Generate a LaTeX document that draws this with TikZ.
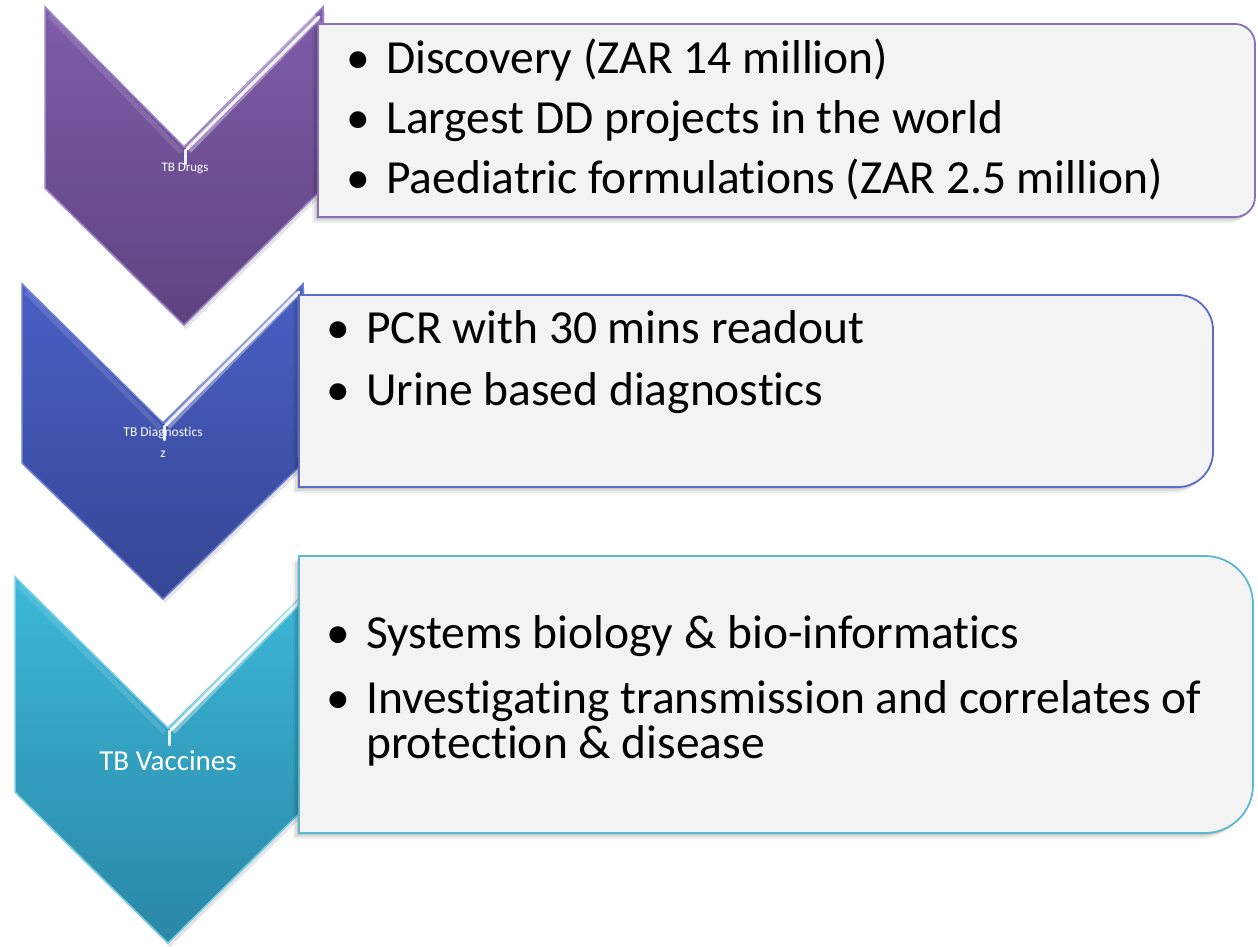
\documentclass[tikz,border=0pt]{standalone}
\usepackage{fontspec}
\setmainfont{Carlito}[Ligatures=NoCommon]

% chevron palettes: top shade, bottom shade, outline
\definecolor{purptop}{HTML}{7F5DAA}
\definecolor{purpbot}{HTML}{5E4380}
\definecolor{purpedge}{HTML}{9A82C4}
\definecolor{bluetop}{HTML}{4A5FC4}
\definecolor{bluebot}{HTML}{354694}
\definecolor{blueedge}{HTML}{6A7DD4}
\definecolor{tealtop}{HTML}{3DB9D9}
\definecolor{tealbot}{HTML}{2A86A5}
\definecolor{tealedge}{HTML}{74CDE5}
% panel outlines and fill
\definecolor{purpline}{HTML}{8B70B8}
\definecolor{blueline}{HTML}{5A6DC6}
\definecolor{tealline}{HTML}{5DB8D2}
\definecolor{panelgrey}{HTML}{F3F3F3}

% #1 left x, #2 centre x, #3 right x, #4 top, #5 notch, #6 side bottom, #7 tip, #8 palette
\newcommand\chevron[8]{%
  \fill[black,opacity=.10] ({#1+2},{#4+4}) -- ({#2+2},{#5+4}) -- ({#3+2},{#4+4}) -- ({#3+2},{#6+4}) -- ({#2+2},{#7+4}) -- ({#1+2},{#6+4}) -- cycle;
  \draw[chev, draw=#8edge, top color=#8top, bottom color=#8bot]
    (#1,#4) -- (#2,#5) -- (#3,#4) -- (#3,#6) -- (#2,#7) -- (#1,#6) -- cycle;
  % soft light bands along the left arm and the right side
  \draw[white, opacity=.12, line width=5pt] ({#1+4},{#4+8}) -- ({#2-3},{#5+5});
  \draw[white, opacity=.18, line width=4pt] ({#3-4},{#4+14}) -- ({#3-4},{#6-6});
}
% bright bevel along the right arm of the notch: #1 centre x, #2 right x, #3 top, #4 notch
\newcommand\glint[4]{%
  \draw[white, opacity=.35, line width=8pt] ({#1+4},{#4+3}) -- ({#2-6},{#4+9-#2+#1});
  \draw[glintline] ({#1+3},{#4+2}) -- ({#2-4},{#4+9-#2+#1});
  \draw[glintline, line width=2.5pt] ({#1+1.5},{#4+3}) -- ({#1+1.5},{#4+17});
}
% #1 left, #2 top, #3 right, #4 bottom, #5 corner radius, #6 outline colour
\newcommand\infopanel[6]{%
  \foreach \s/\o in {2/.10,4/.08,6/.06}{
    \fill[black,opacity=\o] ({#1-\s},{#2+\s}) -- ({#3-#5-\s},{#2+\s}) arc[start angle=-90,end angle=0,radius=#5] -- ({#3-\s},{#4-#5+\s}) arc[start angle=0,end angle=90,radius=#5] -- ({#1-\s},{#4+\s}) -- cycle;
  }
  \draw[panel, draw=#6] (#1,#2) -- ({#3-#5},#2) arc[start angle=-90,end angle=0,radius=#5]
    -- (#3,{#4-#5}) arc[start angle=0,end angle=90,radius=#5] -- (#1,#4) -- cycle;
}
\newcommand\bul{\makebox[40pt][l]{•}}

\begin{document}
\begin{tikzpicture}[x=1pt,y=-1pt,
  chev/.style={line width=1.5pt, line join=miter},
  glintline/.style={white, line width=3pt, opacity=.9, line cap=round},
  panel/.style={fill=panelgrey, line width=1.8pt},
  item/.style={anchor=base west, inner sep=0pt, text=black, font=\fontsize{47.5}{57}\selectfont},
  tag/.style={text=white, inner sep=0pt, align=center}]
\useasboundingbox (0,0) rectangle (1258,946);
\fill[white] (0,0) rectangle (1258,946);

% ---- TB Drugs ----
\chevron{45}{184}{323}{7}{147}{188}{325}{purp}
\node[tag, font=\fontsize{13}{16}\selectfont] (drugs) at (185,168) {TB Drugs};
\glint{184}{323}{7}{147}
\infopanel{318}{24}{1255}{217}{20}{purpline}
\node[item] (d1) at (346,73) {\bul Discovery (ZAR 14 million)};
\node[item] (d2) at (346,133) {\bul Largest DD projects in the world};
\node[item] (d3) at (346,193) {\bul Paediatric formulations (ZAR 2.5 million)};

% ---- TB Diagnostics ----
\chevron{22}{163}{303}{284}{423}{463}{599}{blue}
\node[tag, font=\fontsize{13.5}{21}\selectfont] (diag) at (163,442) {TB Diagnostics\\z};
\glint{163}{303}{284}{423}
\infopanel{299}{295}{1213}{487}{35}{blueline}
\node[item] (g1) at (326,343) {\bul PCR with 30 mins readout};
\node[item] (g2) at (326,405) {\bul Urine based diagnostics};

% ---- TB Vaccines ----
\chevron{15}{168}{321}{577}{728}{792}{943}{teal}
\node[tag, font=\fontsize{29}{34}\selectfont] (vacc) at (168,761) {TB Vaccines};
\glint{168}{321}{577}{728}
\infopanel{299}{556}{1253}{833}{48}{tealline}
\node[item] (v1) at (326,648) {\bul Systems biology \& bio-informatics};
\node[item] (v2) at (326,713) {\bul Investigating transmission and correlates of};
\node[item] (v2b) at (366,758) {protection \& disease};
\end{tikzpicture}
\end{document}
